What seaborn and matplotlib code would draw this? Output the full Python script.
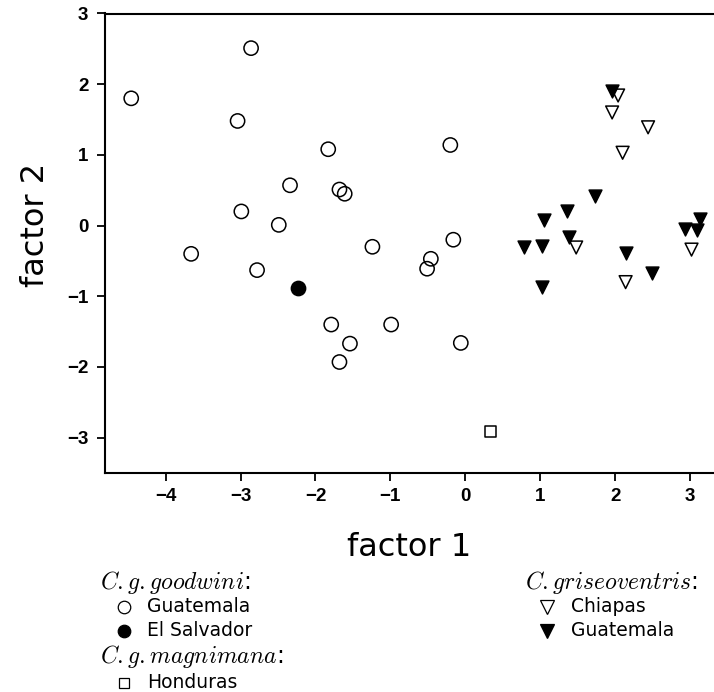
import numpy as np
import pandas as pd
import matplotlib
matplotlib.use("Agg")
import matplotlib.pyplot as plt
import seaborn as sns
from matplotlib.lines import Line2D

# ---------------- data ----------------
goodwini_gt_f1 = [-4.46, -2.86, -3.04, -1.83, -2.34, -1.68, -1.61, -2.99, -2.49, -1.24,
                  -3.66, -2.78, -1.79, -1.54, -1.68, -0.99, -0.16, -0.46, -0.51, -0.06, -0.20]
goodwini_gt_f2 = [1.80, 2.51, 1.48, 1.08, 0.57, 0.51, 0.45, 0.20, 0.01, -0.30,
                  -0.40, -0.63, -1.40, -1.67, -1.93, -1.40, -0.20, -0.47, -0.61, -1.66, 1.14]
goodwini_sv_f1 = [-2.23]
goodwini_sv_f2 = [-0.89]
magnimana_hn_f1 = [0.34]
magnimana_hn_f2 = [-2.91]
griseo_ch_f1 = [2.04, 1.96, 2.44, 2.10, 1.48, 2.14, 3.02]
griseo_ch_f2 = [1.84, 1.60, 1.39, 1.03, -0.31, -0.80, -0.34]
griseo_gt_f1 = [1.96, 1.73, 1.36, 1.05, 1.38, 0.79, 1.03, 1.03, 2.14, 2.49, 2.93, 3.09, 3.13]
griseo_gt_f2 = [1.90, 0.42, 0.20, 0.08, -0.16, -0.31, -0.29, -0.87, -0.39, -0.67, -0.05, -0.06, 0.09]

x_ticks = [-4, -3, -2, -1, 0, 1, 2, 3]
y_ticks = [-3, -2, -1, 0, 1, 2, 3]
x_label = "factor 1"
y_label = "factor 2"

groups = ["gw_gt", "gw_sv", "mg_hn", "gr_ch", "gr_gt"]
group_data = {
    "gw_gt": (goodwini_gt_f1, goodwini_gt_f2),
    "gw_sv": (goodwini_sv_f1, goodwini_sv_f2),
    "mg_hn": (magnimana_hn_f1, magnimana_hn_f2),
    "gr_ch": (griseo_ch_f1, griseo_ch_f2),
    "gr_gt": (griseo_gt_f1, griseo_gt_f2),
}
df = pd.concat([pd.DataFrame({"f1": v[0], "f2": v[1], "group": k})
                for k, v in group_data.items()], ignore_index=True)

styles = {
    "gw_gt": dict(marker="o", s=105, face="none"),
    "gw_sv": dict(marker="o", s=105, face="black"),
    "mg_hn": dict(marker="s", s=60, face="none"),
    "gr_ch": dict(marker="v", s=85, face="none"),
    "gr_gt": dict(marker="v", s=85, face="black"),
}

# ---------------- figure ----------------
sns.set_theme(style="white")
plt.rcParams["font.family"] = ["DejaVu Sans"]
plt.rcParams["mathtext.fontset"] = "cm"
plt.rcParams["text.color"] = "black"

W, H = 714, 692
fig = plt.figure(figsize=(W / 100, H / 100), dpi=100)
fig.patch.set_facecolor("white")
ax = fig.add_axes([105 / W, 1 - 473 / H, (W - 105) / W, (473 - 13.5) / H])
ax.set_facecolor("white")

for g in groups:
    st = styles[g]
    sub = df[df["group"] == g]
    sns.scatterplot(data=sub, x="f1", y="f2", marker=st["marker"], s=st["s"],
                    color="black", ax=ax, legend=False, zorder=3)
    coll = ax.collections[-1]
    coll.set_facecolor(st["face"])
    coll.set_edgecolor("black")
    coll.set_linewidth(1.1)

ax.set_xlim(-4.81, 3.32)
ax.set_ylim(-3.5, 3.0)
ax.set_xticks(x_ticks)
ax.set_yticks(y_ticks)
ax.grid(False)

for side in ["left", "bottom", "top"]:
    ax.spines[side].set_visible(True)
    ax.spines[side].set_color("black")
    ax.spines[side].set_linewidth(1.5)
ax.spines["right"].set_visible(False)

ax.tick_params(axis="both", which="major", direction="out", length=6, width=1.3,
               color="black", labelsize=13.5, labelcolor="black",
               bottom=True, left=True, top=False, right=False)
ax.tick_params(axis="x", pad=5)
ax.tick_params(axis="y", pad=6)
for lbl in ax.get_xticklabels() + ax.get_yticklabels():
    lbl.set_fontfamily("Liberation Sans")
    lbl.set_fontweight("bold")

ax.set_xlabel(x_label, fontsize=23, color="black")
ax.set_ylabel(y_label, fontsize=23, color="black")
ax.xaxis.label.set_va("center")
ax.yaxis.label.set_va("center")
ax.xaxis.set_label_coords(0.5, (473 - 548) / (473 - 13.5))
ax.yaxis.set_label_coords((36 - 105) / (W - 105), (473 - 225) / (473 - 13.5))

# ---------------- legend (text blocks with markers) ----------------
def fx(px):
    return px / W

def fy(py):
    return 1 - py / H

title_fs = 17
item_fs = 13.5

fig.text(fx(100), fy(583), r"$C{.}g{.}goodwini$:", fontsize=title_fs, ha="left", va="center")
fig.text(fx(100), fy(657), r"$C{.}g{.}magnimana$:", fontsize=title_fs, ha="left", va="center")
fig.text(fx(698), fy(583), r"$C{.}griseoventris$:", fontsize=title_fs, ha="right", va="center")

legend_items = [
    (124, 607, "o", "none", 9, "Guatemala", 147),
    (124, 631, "o", "black", 9, "El Salvador", 147),
    (124, 683, "s", "none", 7, "Honduras", 147),
    (547, 607, "v", "none", 9.5, "Chiapas", 571),
    (547, 631, "v", "black", 9.5, "Guatemala", 571),
]
for mx, my, mk, fc, ms, label, tx in legend_items:
    fig.add_artist(Line2D([fx(mx)], [fy(my)], transform=fig.transFigure, marker=mk,
                          markersize=ms, markerfacecolor=fc, markeredgecolor="black",
                          markeredgewidth=0.9, linestyle="none"))
    fig.text(fx(tx), fy(my), label, fontsize=item_fs, ha="left", va="center", color="black")

fig.savefig("out.png", dpi=100, facecolor="white")
